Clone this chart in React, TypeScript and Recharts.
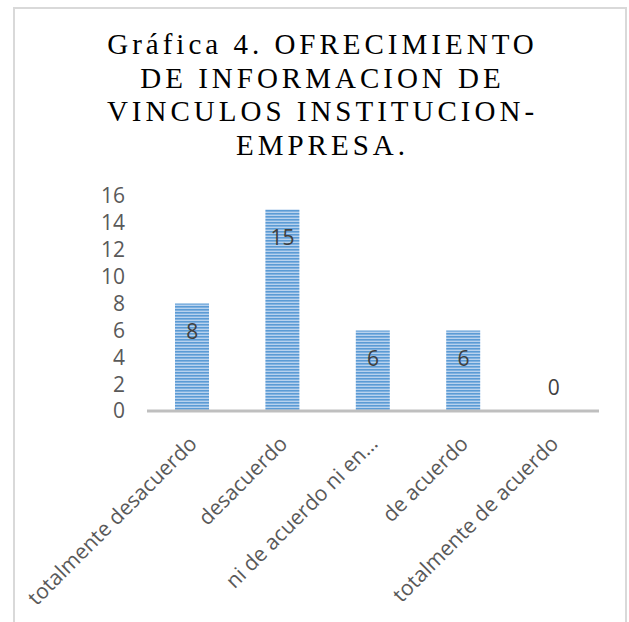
import React from 'react';
import { ComposedChart, Bar, Line, XAxis, YAxis, LabelList } from 'recharts';

const categories = [
  'totalmente desacuerdo',
  'desacuerdo',
  'ni de acuerdo ni en desacuerdo',
  'de acuerdo',
  'totalmente de acuerdo',
];
const values = [8, 15, 6, 6, 0];
const yTicks = [0, 2, 4, 6, 8, 10, 12, 14, 16];
const titleLines = [
  'Gráfica 4. OFRECIMIENTO',
  'DE INFORMACION DE',
  'VINCULOS INSTITUCION-',
  'EMPRESA.',
];

const data = categories.map((name, i) => ({ name, value: values[i] }));

const FONT = '"Open Sans", sans-serif';
const FS = 21;

// Excel cuts long category names and adds an ellipsis
const shorten = (s: string) => (s.length > 22 ? s.slice(0, 19) + '…' : s);

const XTick = (props: any) => {
  const { x, y, payload } = props;
  return (
    <g transform={`translate(${x + 6},${y + 26})`}>
      <text
        transform="rotate(-45)"
        textAnchor="end"
        fill="#595959"
        fontSize={FS}
        fontFamily={FONT}
      >
        {shorten(payload.value)}
      </text>
    </g>
  );
};

// labels sit on an invisible line so the zero bar gets one too
const ValueLabel = (props: any) => {
  const { x, y, value } = props;
  const cy = value > 0 ? y + 28 : y - 23;
  return (
    <text
      x={x}
      y={cy}
      dy="0.35em"
      textAnchor="middle"
      fill="#404040"
      fontSize={FS}
      fontFamily={FONT}
    >
      {value}
    </text>
  );
};

export default function App() {
  return (
    <div style={{ position: 'absolute', left: 0, top: 0, width: 629, height: 622, background: '#fff', overflow: 'hidden' }}>
      <div
        style={{
          position: 'absolute',
          left: 13,
          top: 7,
          width: 614,
          height: 640,
          border: '2px solid #d9d9d9',
          boxSizing: 'border-box',
        }}
      />
      <div
        style={{
          position: 'absolute',
          left: 13,
          top: 28,
          width: 615,
          textAlign: 'center',
          fontFamily: '"Liberation Serif", "Times New Roman", serif',
          fontSize: 29,
          lineHeight: '33.5px',
          letterSpacing: 4,
          color: '#000',
        }}
      >
        {titleLines.map((t) => (
          <div key={t} style={{ paddingLeft: 4 }}>{t}</div>
        ))}
      </div>
      <div style={{ position: 'absolute', left: 0, top: 0 }}>
        <ComposedChart
          width={629}
          height={622}
          data={data}
          margin={{ top: 196, right: 30, bottom: 181, left: 87 }}
          barCategoryGap={0}
        >
          <defs>
            <pattern id="stripes" patternUnits="userSpaceOnUse" width={10} height={3}>
              <rect x={0} y={0} width={10} height={3} fill="#b8d2ee" />
              <rect x={0} y={0} width={10} height={1.6} fill="#5b9bd5" />
            </pattern>
          </defs>
          <YAxis
            width={60}
            domain={[0, 16]}
            ticks={yTicks}
            interval={0}
            axisLine={false}
            tickLine={false}
            tickMargin={16}
            tick={{ fill: '#595959', fontSize: FS, fontFamily: FONT }}
          />
          <Bar dataKey="value" fill="url(#stripes)" barSize={34} isAnimationActive={false} />
          <Line
            dataKey="value"
            stroke="none"
            dot={false}
            activeDot={false}
            isAnimationActive={false}
          >
            <LabelList dataKey="value" content={<ValueLabel />} />
          </Line>
          <XAxis
            dataKey="name"
            height={30}
            interval={0}
            axisLine={{ stroke: '#bfbfbf', strokeWidth: 3 }}
            tickLine={false}
            tick={<XTick />}
          />
        </ComposedChart>
      </div>
    </div>
  );
}
